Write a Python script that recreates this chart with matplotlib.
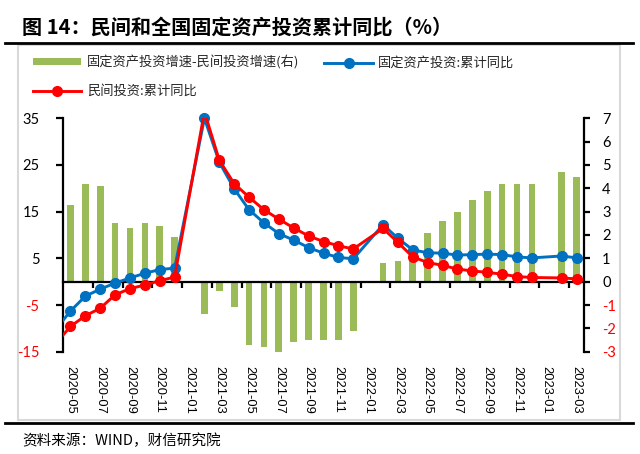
import matplotlib
matplotlib.use("Agg")
import matplotlib.pyplot as plt
import pandas as pd
from matplotlib.lines import Line2D
from matplotlib.patches import Rectangle, Patch
from matplotlib.transforms import Bbox, TransformedBbox

months = ['2020-04', '2020-05', '2020-06', '2020-07', '2020-08', '2020-09', '2020-10', '2020-11', '2020-12',
          '2021-02', '2021-03', '2021-04', '2021-05', '2021-06', '2021-07', '2021-08', '2021-09', '2021-10',
          '2021-11', '2021-12',
          '2022-02', '2022-03', '2022-04', '2022-05', '2022-06', '2022-07', '2022-08', '2022-09', '2022-10',
          '2022-11', '2022-12',
          '2023-02', '2023-03']
fai_total = [-10.3, -6.3, -3.1, -1.6, -0.3, 0.8, 1.8, 2.6, 2.9,
             35.0, 25.6, 19.9, 15.4, 12.6, 10.3, 8.9, 7.3, 6.1, 5.2, 4.9,
             12.2, 9.3, 6.8, 6.2, 6.1, 5.7, 5.8, 5.9, 5.8, 5.3, 5.1,
             5.5, 5.1]
fai_private = [-13.3, -9.6, -7.3, -5.7, -2.8, -1.5, -0.7, 0.2, 1.0,
               36.4, 26.0, 21.0, 18.1, 15.4, 13.4, 11.5, 9.8, 8.6, 7.7, 7.0,
               11.4, 8.4, 5.3, 4.1, 3.5, 2.7, 2.3, 2.0, 1.6, 1.1, 0.9,
               0.8, 0.6]
spread = [3.0, 3.3, 4.2, 4.1, 2.5, 2.3, 2.5, 2.4, 1.9,
          -1.4, -0.4, -1.1, -2.7, -2.8, -3.1, -2.6, -2.5, -2.5, -2.5, -2.1,
          0.8, 0.9, 1.5, 2.1, 2.6, 3.0, 3.5, 3.9, 4.2, 4.2, 4.2,
          4.7, 4.5]
axis_start = '2020-05'
axis_end = '2023-03'
xtick_labels = ['2020-05', '2020-07', '2020-09', '2020-11', '2021-01', '2021-03', '2021-05', '2021-07',
                '2021-09', '2021-11', '2022-01', '2022-03', '2022-05', '2022-07', '2022-09', '2022-11',
                '2023-01', '2023-03']
left_ticks = [-15, -5, 5, 15, 25, 35]
right_ticks = [-3, -2, -1, 0, 1, 2, 3, 4, 5, 6, 7]

title = '图 14：民间和全国固定资产投资累计同比（%）'
source = '资料来源：WIND，财信研究院'
label_bar = '固定资产投资增速-民间投资增速(右)'
label_total = '固定资产投资:累计同比'
label_private = '民间投资:累计同比'

CJK = ['Noto Sans CJK SC', 'DejaVu Sans']
plt.rcParams['font.family'] = CJK

start = pd.Period(axis_start, 'M')
def idx(m):
    return (pd.Period(m, 'M') - start).n
x = [idx(m) for m in months]
n_end = idx(axis_end)
tick_pos = [idx(m) for m in xtick_labels]

fig = plt.figure(figsize=(6.4, 4.54), dpi=100)
W, H = 640, 454

ax = fig.add_axes([63 / W, 1 - 351.7 / H, (584 - 63) / W, (351.7 - 118.3) / H])
ax2 = ax.twinx()
ax.set_zorder(ax2.get_zorder() + 1)
ax.patch.set_visible(False)

green = '#9BBB59'
blue = '#0070C0'
red = '#FF0000'

ax2.bar(x, spread, width=0.45, color=green, zorder=2)
blue_line, = ax.plot(x, fai_total, color=blue, lw=2.1, marker='o', ms=7, zorder=3)
ax.plot(x, fai_private, color=red, lw=2.1, marker='o', ms=7, zorder=4)
# let the blue peak marker show fully above the top edge (clip only horizontally)
blue_line.set_clip_box(TransformedBbox(Bbox([[0, -0.1], [1, 1.1]]), ax.transAxes))

ax.set_xlim(-0.5, n_end + 0.5)
ax.set_ylim(-15, 35)
ax2.set_ylim(-3, 7)

for a in (ax, ax2):
    a.spines['top'].set_visible(False)
    a.spines['bottom'].set_visible(False)
ax.spines['right'].set_visible(False)
ax2.spines['left'].set_visible(False)
ax.spines['left'].set_linewidth(1.6)
ax2.spines['right'].set_linewidth(1.6)

# zero line as x axis
ax.spines['bottom'].set_visible(True)
ax.spines['bottom'].set_position(('data', 0))
ax.spines['bottom'].set_linewidth(1.6)
ax.set_xticks([p + 1.5 for p in tick_pos[:-1]])
ax.tick_params(axis='x', direction='out', length=4, width=1.6, labelbottom=False)

sec = ax.secondary_xaxis(0)
sec.set_xticks(tick_pos)
sec.set_xticklabels(xtick_labels, rotation=-90, family=['Liberation Sans'], fontsize=9.3)
sec.tick_params(length=0, pad=10)
sec.spines['bottom'].set_visible(False)

ax.set_yticks(left_ticks)
ax.set_yticklabels([str(v) for v in left_ticks], family=['Lato'], fontsize=10.5)
ax.tick_params(axis='y', direction='out', length=5, width=1.6, pad=12)
for lbl, v in zip(ax.get_yticklabels(), left_ticks):
    lbl.set_color(red if v < 0 else 'black')

ax2.set_yticks(right_ticks)
ax2.set_yticklabels([str(v) for v in right_ticks], family=['Lato'], fontsize=10.5)
ax2.tick_params(axis='y', direction='out', length=4, width=1.6, pad=9)
for lbl, v in zip(ax2.get_yticklabels(), right_ticks):
    lbl.set_color(red if v < 0 else 'black')

# legend
handles = [Patch(facecolor=green, edgecolor='none'),
           Line2D([], [], color=red, lw=2.1, marker='o', ms=7),
           Line2D([], [], color=blue, lw=2.1, marker='o', ms=7)]
labels = [label_bar, label_private, label_total]
leg = fig.legend(handles, labels, ncol=2, loc='upper left',
                 bbox_to_anchor=(26 / W, 1 - 49 / H), frameon=False,
                 fontsize=9.5, handlelength=3.7, handleheight=0.45, handletextpad=0.4,
                 columnspacing=1.9, labelspacing=1.15, borderpad=0.0)
for t in leg.get_texts():
    t.set_color('#262626')

# title, frame and rules
fig.text(22 / W, 1 - 27 / H, title, fontsize=14.5, fontweight='bold', va='center', ha='left')
fig.add_artist(Line2D([5 / W, 633 / W], [1 - 42.7 / H] * 2, color='black', lw=2.0))
fig.add_artist(Rectangle((18 / W, 1 - 420 / H), (620 - 18) / W, (420 - 45) / H,
                         fill=False, edgecolor='#d9d9d9', lw=1.5))
fig.add_artist(Line2D([5 / W, 633 / W], [1 - 423 / H] * 2, color='black', lw=2.0))
fig.text(22 / W, 1 - 441 / H, source, fontsize=10.5, va='center', ha='left')

fig.savefig('out.png', dpi=100)
